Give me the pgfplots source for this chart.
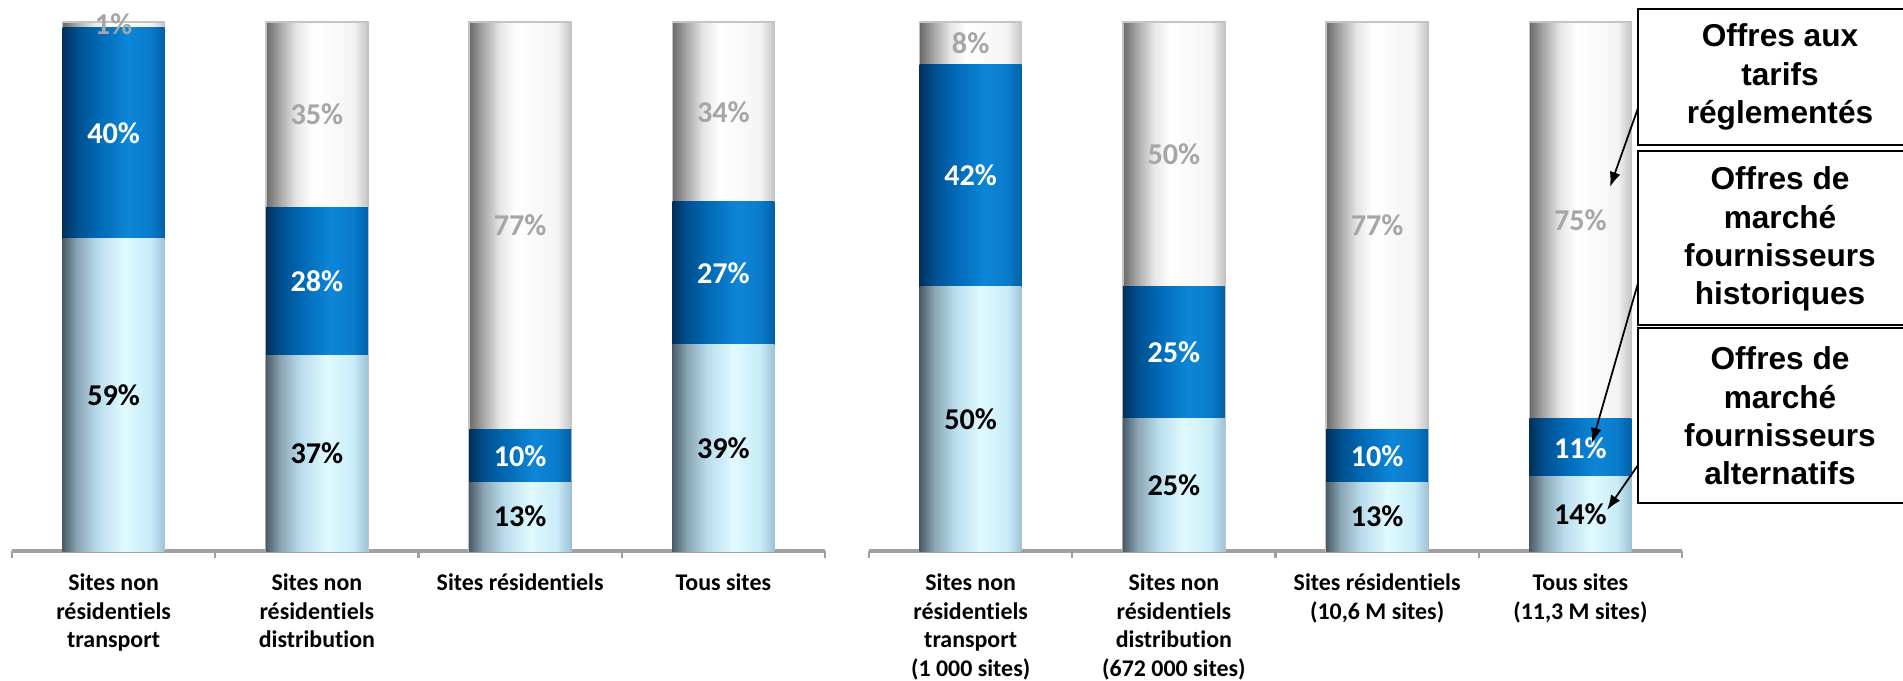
\documentclass[border=0pt]{standalone}
\usepackage{fontspec}
\setmainfont{Carlito}[Ligatures=NoCommon]
\newfontfamily\legendfont{Liberation Sans}
\usepackage{pgfplots}
\usepackage{pgfplotstable}
\pgfplotsset{compat=1.18}
\usetikzlibrary{arrows.meta}

% couleurs des segments
\definecolor{alt0}{HTML}{4A5C68}
\definecolor{alt1}{HTML}{8AA4B3}
\definecolor{alt2}{HTML}{B9DCEC}
\definecolor{alt3}{HTML}{E0FAFF}
\definecolor{alt4}{HTML}{C8ECF8}
\definecolor{alt5}{HTML}{9EC2D6}
\definecolor{his0}{HTML}{00305A}
\definecolor{his1}{HTML}{004F8E}
\definecolor{his2}{HTML}{0068B4}
\definecolor{his3}{HTML}{0D86D8}
\definecolor{his4}{HTML}{0A7BCB}
\definecolor{his5}{HTML}{0060A6}
\definecolor{reg0}{HTML}{6A6A6A}
\definecolor{reg1}{HTML}{A8A8A8}
\definecolor{reg2}{HTML}{E6E6E6}
\definecolor{reg3}{HTML}{FFFFFF}
\definecolor{reg4}{HTML}{F4F4F4}
\definecolor{reg5}{HTML}{C4C4C4}
\definecolor{axgray}{HTML}{A0A0A0}
\definecolor{pctgray}{HTML}{A6A6A6}

\pgfdeclarehorizontalshading{altshade}{100bp}{color(0bp)=(alt0); color(25bp)=(alt0);
  color(32bp)=(alt1); color(42bp)=(alt2); color(55bp)=(alt3); color(68bp)=(alt4);
  color(75bp)=(alt5); color(100bp)=(alt5)}
\pgfdeclarehorizontalshading{hisshade}{100bp}{color(0bp)=(his0); color(25bp)=(his0);
  color(32bp)=(his1); color(42bp)=(his2); color(57bp)=(his3); color(68bp)=(his4);
  color(75bp)=(his5); color(100bp)=(his5)}
\pgfdeclarehorizontalshading{regshade}{100bp}{color(0bp)=(reg0); color(25bp)=(reg0);
  color(32bp)=(reg1); color(40bp)=(reg2); color(48bp)=(reg3); color(68bp)=(reg4);
  color(75bp)=(reg5); color(100bp)=(reg5)}

% parts (%) : alternatifs, historiques, reglementes
\pgfplotstableread{
x alt his reg
0 59 40 1
1 37 28 35
2 13 10 77
3 39 27 34
}\gauche
\pgfplotstableread{
x alt his reg
0 50 42 8
1 25 25 50
2 13 10 77
3 14 11 75
}\droite

\pgfplotsset{
  panel/.style={
    scale only axis, width=8.13cm, height=5.29cm, anchor=south west,
    xmin=-0.5, xmax=3.5, ymin=0, ymax=100, clip=false,
    axis y line=none, axis x line=bottom,
    x axis line style={-, draw=axgray, line width=1pt},
    xtick={0,1,2,3}, major tick length=0pt,
    minor xtick={-0.5,0.5,1.5,2.5,3.5}, minor tick length=0.7mm,
    tick align=outside, minor tick style={draw=axgray, line width=0.6pt},
    xticklabel style={align=center, anchor=north, yshift=-1mm,
      font=\fontsize{6.8}{8.2}\selectfont\bfseries},
    /pgf/number format/assume math mode=true,
  },
  seg/.style={ybar, bar width=1.02cm, bar shift=0pt, draw=none},
  altbar/.style={seg, shading=altshade},
  hisbar/.style={seg, shading=hisshade},
  regbar/.style={seg, shading=regshade, draw=reg5, line width=0.4pt},
  lbl/.style={draw=none, mark=none, point meta=explicit,
    nodes near coords={\pgfmathprintnumber{\pgfplotspointmeta}\%},
    every node near coord/.append style={anchor=center, text=#1,
      font=\fontsize{8.6}{10}\selectfont\bfseries}},
}

% une colonne empilee par categorie (segments superposes depuis 0)
\newcommand\colonnes[1]{%
  \pgfplotsinvokeforeach{0,...,3}{%
    \addplot[regbar, x filter/.expression={abs(x-##1)<0.25 ? x : nan}]
      table[x=x, y expr=\thisrow{alt}+\thisrow{his}+\thisrow{reg}]{#1};
    \addplot[hisbar, x filter/.expression={abs(x-##1)<0.25 ? x : nan}]
      table[x=x, y expr=\thisrow{alt}+\thisrow{his}]{#1};
    \addplot[altbar, x filter/.expression={abs(x-##1)<0.25 ? x : nan}]
      table[x=x, y=alt]{#1};
  }%
  \addplot[lbl=black] table[x=x, y expr=\thisrow{alt}/2, meta=alt]{#1};
  \addplot[lbl=white] table[x=x, y expr=\thisrow{alt}+\thisrow{his}/2, meta=his]{#1};
  \addplot[lbl=pctgray] table[x=x, y expr=\thisrow{alt}+\thisrow{his}+\thisrow{reg}/2, meta=reg]{#1};
}

\begin{document}
\begin{tikzpicture}
\path[use as bounding box] (0,0) rectangle (19.03,6.8);

\begin{axis}[panel, at={(0.12cm,1.29cm)},
  xticklabels={{Sites non\\résidentiels\\transport},
    {Sites non\\résidentiels\\distribution},
    {Sites résidentiels}, {Tous sites}}]
\colonnes{\gauche}
\end{axis}

\begin{axis}[panel, at={(8.69cm,1.29cm)},
  xticklabels={{Sites non\\résidentiels\\transport\\(1 000 sites)},
    {Sites non\\résidentiels\\distribution\\(672 000 sites)},
    {Sites résidentiels\\(10,6 M sites)}, {Tous sites\\(11,3 M sites)}}]
\colonnes{\droite}
\end{axis}

% legende en encadres
\begin{scope}[line width=0.7pt]
\draw (19.4,6.71) -| (16.38,5.35) -- (19.4,5.35);
\draw (19.4,5.29) -| (16.38,3.55) -- (19.4,3.55);
\draw (19.4,3.52) -| (16.38,1.77) -- (19.4,1.77);
\end{scope}
\begin{scope}[every node/.style={align=center,
    font=\legendfont\fontsize{9}{10.9}\selectfont\bfseries}]
\node at (17.80,6.03) {Offres aux\\tarifs\\réglementés};
\node at (17.80,4.41) {Offres de\\marché\\fournisseurs\\historiques};
\node at (17.80,2.64) {Offres de\\marché\\fournisseurs\\alternatifs};
\end{scope}
\begin{scope}[line width=0.5pt, -{Latex[length=1.5mm,width=1.1mm]}]
\draw (16.38,5.72) -- (16.10,4.93);
\draw (16.38,3.97) -- (15.92,2.37);
\draw (16.38,2.15) -- (16.07,1.70);
\end{scope}
\end{tikzpicture}
\end{document}
